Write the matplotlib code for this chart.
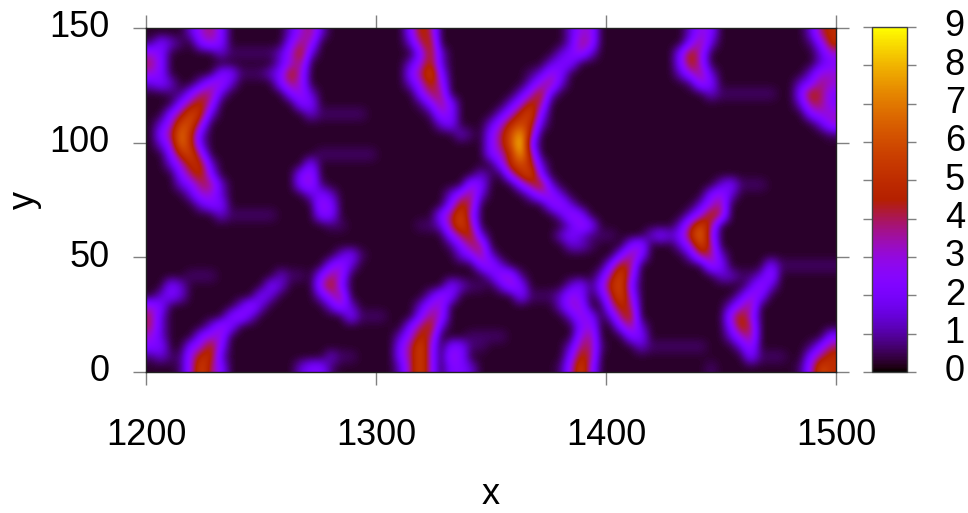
import numpy as np
import matplotlib
matplotlib.use('Agg')
import matplotlib.pyplot as plt
from matplotlib.colors import ListedColormap
from matplotlib.transforms import ScaledTranslation

plt.rcParams['font.family'] = ['Liberation Sans', 'DejaVu Sans']

# one string per row from y=150 down to y=0
# '.' is the dark background, 'a' the faint tails, digits are the colour bar value
heat_rows = [
    "....1342.. ....1341.. ......254. .......... ..133..... ....132... ......145",
    "a21a.232.. ....243... ......145. .......... ..143..... ....241... ......a25",
    "32.....1aa aaa1351... .......251 .......... .1231..... ...253.... .......13",
    "42........ ...134.... ......1351 .......... 122....... ...253.... .......12",
    "32.....22a aa1253.... ......2462 ........a1 32........ ...1341... ......133",
    "121..1331. ...243.... ......1353 ........13 41........ ....a32... .....1243",
    "..aa2441.. ....231... .......244 .......135 1......... ......1aaa aaa..2542",
    "...2453... .....22... .......a24 2.....1354 .......... .......... .....1442",
    "..24651... ......1aaa aa......a3 2....13562 .......... .......... ......233",
    ".13663.... .......... .........1 2...135651 .......... .......... .......13",
    ".24751.... .......... .......... .1a.24684. .......... .......... ........a",
    ".13751.... .......... .......... ....24692. .......... .......... .........",
    "..2563.... .......aaa aaa....... ....23584. .......... .......... .........",
    "..13551... ......2... .......... .....25651 .......... .......... .........",
    "...2452... .....23... .......... ...1a.3562 .......... .......... .........",
    "...12441.. .....23a.. .......... ..32...245 1......... .......12a aa.......",
    "....1331.. ......121. .......... 1341....13 31........ ......231. .........",
    ".....122.. .......32. .......... 254....... 231....... .....134.. .........",
    ".......1aa aaa....22. .........2 463....... .132...... ....1354.. .........",
    ".......... ........aa .......aa1 464....... ..132..... ...1464... .........",
    ".......... .......... .......... 2451...... .121aaa... 1212573... .........",
    ".......... .......... .......... a244...... ..11a...23 ...1364... .........",
    ".......... .........1 2a........ .1241..... .......242 ....1441.. .........",
    ".......... ........23 1......... ...231.... ......254. ......32.. ..2aaaaaa",
    "....aaa... ...1aa.243 .......... ....133a.. .....1463. .......11a a13......",
    "..21...... ..21...352 .......... 21aa.132.. ..12a2562. .......... 131......",
    ".121...... .21....134 ........13 2......2aa a132.1463. .........1 32.......",
    "32.......1 31......13 1......133 .......... .133..354. ........13 4........",
    "41......23 1......... 2aaa...243 .......... ..132.145. ........35 3........",
    "41....132. .......... ......2451 .......... ...23..241 ........25 4........",
    "31...233.. .......... .....1354. ..aaaa.... ...34...22 ........13 4.......2",
    "22..2352.. .......... .....2463. 22aa...... ..144a...1 aaaaaa...1 3.....a24",
    "a1aa3551.. ........1a a....2463. 32........ ..254..... .......... 2aaa..245",
    "...a3642.. .....122a. .....1463. 221....... .a363..... ......a... .....a365",
]
char_values = {'.': 0.25, 'a': 0.65, '1': 1.4, '2': 2.3, '3': 3.1}
x_ticks = [1200, 1300, 1400, 1500]
y_ticks = [0, 50, 100, 150]
cb_ticks = [0, 1, 2, 3, 4, 5, 6, 7, 8, 9]

def to_value(ch):
    return char_values[ch] if ch in char_values else float(ch)

z = np.array([[to_value(c) for c in r.replace(' ', '')] for r in heat_rows])

# gnuplot's default pm3d palette, rgbformulae 7,5,15
t = np.linspace(0, 1, 256)
palette = ListedColormap(np.column_stack([np.sqrt(t), t ** 3, np.clip(np.sin(2 * np.pi * t), 0, 1)]))

W, H = 968, 513
fig = plt.figure(figsize=(W / 100, H / 100), dpi=100)
ax = fig.add_axes([146 / W, 1 - 372 / H, 690 / W, 344 / H])
im = ax.imshow(z, extent=[1200, 1500, 0, 150], aspect='auto', cmap=palette, vmin=0, vmax=9,
               interpolation='bicubic')
ax.set_xticks(x_ticks)
ax.set_yticks(y_ticks)
ax.tick_params(top=True, right=True, length=9.4, width=1, color='#808080', labelsize=26, labelcolor='black')
ax.tick_params(axis='x', pad=24)
ax.tick_params(axis='y', pad=17)
ax.set_xlabel('x', fontsize=26, labelpad=17)
ax.set_ylabel('y', fontsize=26, labelpad=5)
for s in ax.spines.values():
    s.set_linewidth(1)
    s.set_color('#202020')

cax = fig.add_axes([872 / W, 1 - 372 / H, 34.5 / W, 345 / H])
cb = fig.colorbar(im, cax=cax, ticks=cb_ticks)
cb.ax.tick_params(left=True, right=True, length=6.5, width=1, color='#808080', labelsize=26, pad=21)
cb.outline.set_linewidth(1)
cb.outline.set_edgecolor('#404040')

# gnuplot sits its labels a little above the tick
up = ScaledTranslation(0, 3 / 72, fig.dpi_scale_trans)
for lbl in ax.get_yticklabels() + cb.ax.get_yticklabels():
    lbl.set_transform(lbl.get_transform() + up)

fig.savefig('out.png', dpi=100)
